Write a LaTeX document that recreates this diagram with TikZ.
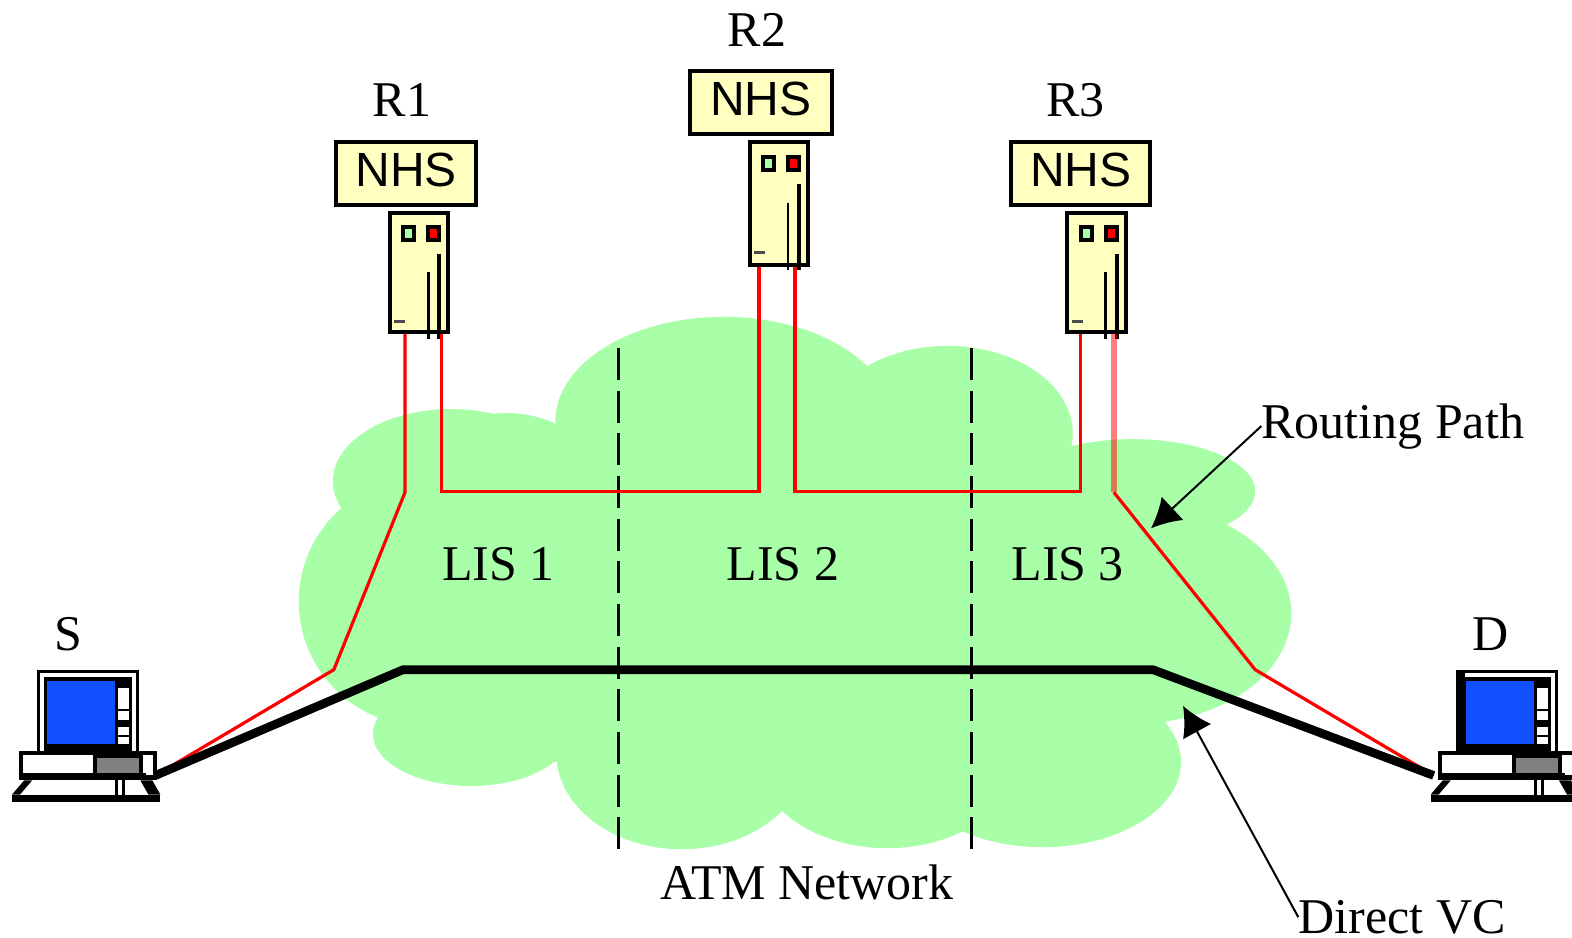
\documentclass[tikz,border=0pt]{standalone}
\usepackage{fontspec}
\setmainfont{Liberation Serif}
\newfontfamily\nhsfont{Liberation Sans}
\usetikzlibrary{arrows.meta}
\definecolor{cloudgreen}{RGB}{168,255,168}
\definecolor{boxyellow}{RGB}{255,255,192}
\definecolor{screenblue}{RGB}{16,80,255}
\tikzset{
    nhsbox/.style={draw=black, fill=boxyellow, line width=3pt, minimum width=104.5pt, minimum height=47pt, inner sep=0pt, font=\nhsfont\fontsize{36}{36}\selectfont},
    srvbox/.style={draw=black, fill=boxyellow, line width=3pt, minimum width=44pt, inner sep=0pt},
    lbl/.style={font=\fontsize{37.5}{37.5}\selectfont, inner sep=0pt},
    routeline/.style={red, line width=2.4pt},
    vcline/.style={black, line width=6.5pt, line join=round},
    lisline/.style={black, line width=2.2pt, dash pattern=on 24pt off 8pt},
    callout/.style={black, line width=1.5pt, -{Latex[length=22pt,width=24pt]}}
}
\newcommand{\nhstext}{\raisebox{5pt}{NHS}}
% server with its lamps, x and y are the centre of the box
\newcommand{\server}[4]{
    \node[srvbox, minimum height=#4] (#1) at (#2, #3) {};
    \begin{scope}[shift={(#2, #3)}]
        \draw[line width=3pt, fill=cloudgreen] (-16, -46) rectangle (-5, -33);
        \draw[line width=3pt, fill=red] (9, -46) rectangle (20, -33);
        \draw[line width=2.2pt] (9, -1) -- (9, 66);
        \draw[line width=3pt] (20, -19) -- (20, 66);
        \draw[black!70, line width=2pt] (-25, 49) -- (-14, 49);
    \end{scope}
}
% desktop computer, the origin is the left end of its base
\newcommand{\computer}[3]{
    \begin{scope}[shift={(#2, #3)}]
        \fill[black] (25, 0) rectangle (127, 84);
        \fill[white] (28, 3) rectangle (124, 84);
        \fill[black] (32, 7) rectangle (120, 84);
        \fill[screenblue] (35, 11) rectangle (103, 74);
        \foreach \ya/\yb in {18/39, 41/50, 57/65, 67/74}
            \fill[white] (106, \ya) rectangle (117, \yb);
        \fill[black] (7, 81) rectangle (145, 110);
        \fill[white] (11, 85) rectangle (81, 103);
        \fill[gray] (85, 88) rectangle (127, 103);
        \fill[white] (131, 85) rectangle (141, 105);
        \fill[black] (18, 103) rectangle (134, 110);
        \fill[black] (0, 124) rectangle (148, 131);
        \fill[black] (12, 110) -- (20, 110) -- (8, 124) -- (0, 124) -- cycle;
        \fill[black] (128, 110) -- (140, 110) -- (148, 124) -- (136, 124) -- cycle;
        \fill[white] (26, 110) rectangle (103, 124);
        \fill[white] (118, 110) rectangle (128, 124);
        \fill[black] (103, 110) rectangle (106, 124);
        \fill[black] (110, 110) rectangle (113, 124);
        \coordinate (#1l) at (3, 105);
        \coordinate (#1r) at (143, 105);
    \end{scope}
}

\begin{document}
\begin{tikzpicture}[x=0.75195pt, y=-0.75195pt]
    \useasboundingbox (0, 0) rectangle (1568, 935);
    % network cloud
    \fill[cloudgreen] (722, 420) ellipse [x radius=168, y radius=104];
    \fill[cloudgreen] (945, 432) ellipse [x radius=125, y radius=87];
    \fill[cloudgreen] (1130, 490) ellipse [x radius=122, y radius=52];
    \fill[cloudgreen] (1130, 612) ellipse [x radius=158, y radius=110];
    \fill[cloudgreen] (450, 480) ellipse [x radius=118, y radius=72];
    \fill[cloudgreen] (505, 470) ellipse [x radius=85, y radius=58];
    \fill[cloudgreen] (425, 600) ellipse [x radius=127, y radius=125];
    \fill[cloudgreen] (470, 732) ellipse [x radius=98, y radius=52];
    \fill[cloudgreen] (680, 752) ellipse [x radius=125, y radius=95];
    \fill[cloudgreen] (885, 755) ellipse [x radius=130, y radius=91];
    \fill[cloudgreen] (1040, 760) ellipse [x radius=138, y radius=85];
    \fill[cloudgreen] (420, 470) rectangle (1150, 760);

    % LIS borders
    \coordinate (b1top) at (617, 347);
    \coordinate (b1bot) at (617, 847);
    \coordinate (b2top) at (969, 347);
    \coordinate (b2bot) at (969, 847);
    \draw[lisline] (b1top) -- (b1bot);
    \draw[lisline] (b2top) -- (b2bot);

    % bend points
    \coordinate (a1) at (404, 491);
    \coordinate (a2) at (333, 668);
    \coordinate (b1) at (440, 490);
    \coordinate (b2) at (757, 490);
    \coordinate (c1) at (793, 490);
    \coordinate (c2) at (1078, 490);
    \coordinate (d1) at (1111, 491);
    \coordinate (d2) at (1252, 668);
    \coordinate (v1) at (402, 668);
    \coordinate (v2) at (1150, 668);

    \computer{pcS}{12}{668.5}
    \computer{pcD}{1427}{668.5}
    \fill[black] (1452, 668.5) rectangle (1461, 750);
    \server{srvA}{418}{272}{89pt}
    \server{srvB}{777}{203}{92pt}
    \server{srvC}{1094}{272}{89pt}

    \draw[routeline] (srvA.south -| a1) -- (a1) -- (a2) -- (pcSr);
    \draw[routeline] (srvA.south -| b1) -- (b1) -- (b2) -- (srvB.south -| b2);
    \draw[routeline] (srvB.south -| c1) -- (c1) -- (c2) -- (srvC.south -| c2);
    \draw[routeline, line width=5pt, opacity=0.5] (srvC.south -| d1) -- (d1);
    \draw[routeline] (d1) -- (d2) -- (pcDl);
    \draw[vcline] (pcSr) -- (v1) -- (v2) -- (pcDl);

    \node[nhsbox] (nhsA) at (405, 173) {\nhstext};
    \node[nhsbox, minimum width=106pt] (nhsB) at (759, 102) {\nhstext};
    \node[nhsbox] (nhsC) at (1078, 173) {\nhstext};

    \node[lbl] (r1) at (401, 100) {R1};
    \node[lbl] (r2) at (755, 30) {R2};
    \node[lbl] (r3) at (1073, 100) {R3};
    \node[lbl] (s) at (68, 633) {S};
    \node[lbl] (d) at (1487, 633) {D};
    \node[lbl] (lisA) at (497, 563) {LIS 1};
    \node[lbl] (lisB) at (781, 563) {LIS 2};
    \node[lbl] (lisC) at (1065, 563) {LIS 3};
    \node[lbl] (atm) at (805, 880) {ATM Network};
    \node[lbl, anchor=base west] (routing) at (1258, 437) {Routing Path};
    \node[lbl, anchor=base west] (direct) at (1295, 931) {Direct VC};

    \coordinate (routingtip) at (1148, 527);
    \coordinate (directtip) at (1180, 704);
    \draw[callout] (routing.west) -- (routingtip);
    \draw[callout] (direct.west) -- (directtip);
\end{tikzpicture}
\end{document}
